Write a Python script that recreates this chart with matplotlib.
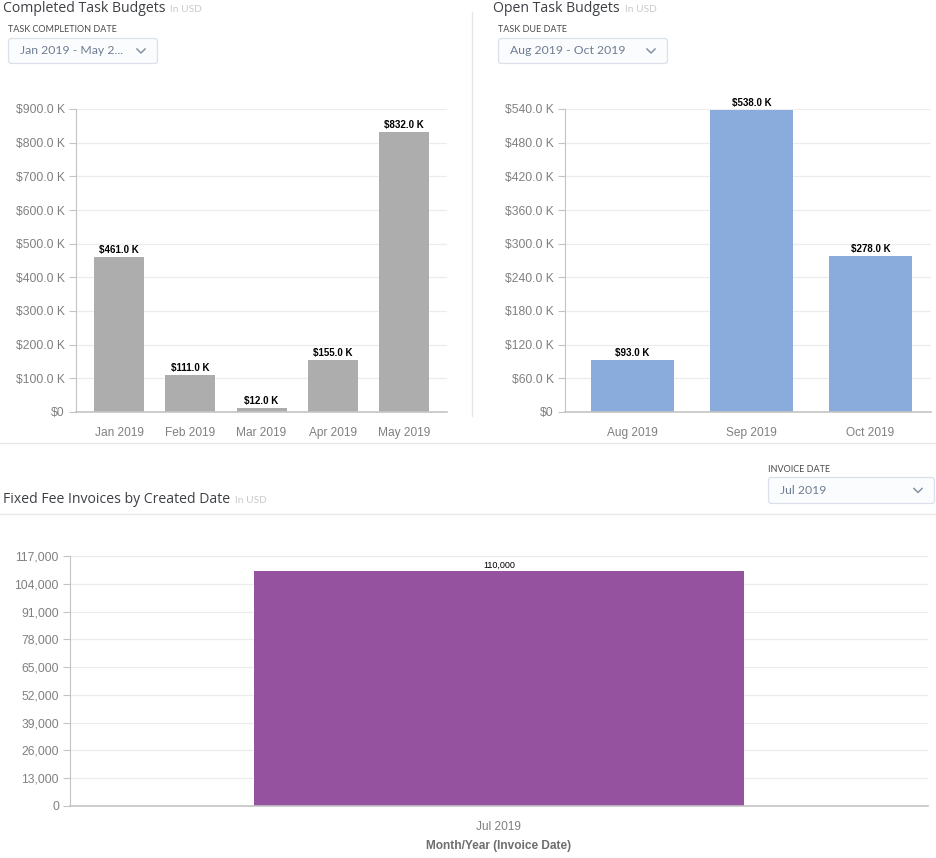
import matplotlib
matplotlib.use('Agg')
import matplotlib.pyplot as plt
from matplotlib.patches import FancyBboxPatch

W, H = 936, 858

# --- data ---
completed_months = ['Jan 2019', 'Feb 2019', 'Mar 2019', 'Apr 2019', 'May 2019']
completed_values = [461, 111, 12, 155, 832]
completed_ticks = [0, 100, 200, 300, 400, 500, 600, 700, 800, 900]

open_months = ['Aug 2019', 'Sep 2019', 'Oct 2019']
open_values = [93, 538, 278]
open_ticks = [0, 60, 120, 180, 240, 300, 360, 420, 480, 540]

invoice_months = ['Jul 2019']
invoice_values = [110000]
invoice_ticks = [0, 13000, 26000, 39000, 52000, 65000, 78000, 91000, 104000, 117000]

AXIS_COL = '#c4c4c4'
GRID_COL = '#ececec'
TICK_COL = '#808080'
BASE_FONT = ['Liberation Sans', 'DejaVu Sans']


def make_axes(left, right, top, bottom):
    # pixel box -> figure fraction
    return fig.add_axes([left / W, 1 - bottom / H, (right - left) / W, (bottom - top) / H])


def k_label(v):
    return '$0' if v == 0 else f'${v:.1f} K'


def bar_panel(ax, names, values, ticks, color, width, xlim, fmt, label_fmt, label_size, label_weight, pad):
    ax.bar(range(len(names)), values, width=width, color=color, edgecolor='none', zorder=2)
    ax.set_xlim(*xlim)
    ax.set_ylim(ticks[0], ticks[-1])
    ax.set_yticks(ticks)
    ax.set_yticklabels([fmt(t) for t in ticks])
    ax.set_xticks(range(len(names)))
    ax.set_xticklabels(names)
    ax.grid(axis='y', color=GRID_COL, linewidth=0.9, zorder=0)
    ax.set_axisbelow(True)
    for s in ['top', 'right']:
        ax.spines[s].set_visible(False)
    ax.spines['left'].set_color(AXIS_COL)
    ax.spines['bottom'].set_color(AXIS_COL)
    ax.spines['bottom'].set_linewidth(1.2)
    ax.tick_params(axis='y', length=5, width=0.8, color=AXIS_COL, labelcolor=TICK_COL, labelsize=8.7, pad=3)
    ax.tick_params(axis='x', length=0, labelcolor=TICK_COL, labelsize=8.6, pad=11)
    for i, v in enumerate(values):
        ax.annotate(label_fmt(v), (i, v), xytext=(0, pad), textcoords='offset points', ha='center', va='bottom',
                    fontsize=label_size, fontweight=label_weight, color='black', clip_on=False)


plt.rcParams['font.family'] = BASE_FONT
fig = plt.figure(figsize=(W / 100, H / 100), dpi=100)

# --- page furniture drawn in pixel coordinates ---
page = fig.add_axes([0, 0, 1, 1], zorder=5)
page.set_xlim(0, W)
page.set_ylim(H, 0)
page.axis('off')
page.patch.set_alpha(0)

page.plot([472, 472], [12, 416], color='#e6e6e6', lw=1)
page.plot([0, 936], [443, 443], color='#e8e8e8', lw=1)
page.plot([0, 936], [514, 514], color='#e8e8e8', lw=1)


def title(x, y, text, note_x):
    page.text(x, y, text, family=['Open Sans', 'DejaVu Sans'], fontsize=10.1, color='#3c3f44', va='center')
    page.text(note_x, y + 1, 'In USD', family=['Lato', 'DejaVu Sans'], fontsize=7.3, color='#c9c9c9', va='center')


def dropdown(x0, x1, y0, y1, label, text):
    page.text(x0, y0 - 8, label, family=['Lato', 'DejaVu Sans'], fontsize=6.5, color='#4a4a4a', va='center')
    page.add_patch(FancyBboxPatch((x0 + 2.5, y0 + 2.5), x1 - x0 - 5, y1 - y0 - 5, boxstyle='round,pad=2,rounding_size=3',
                                  fc='#fbfcfd', ec='#d9e0ea', lw=0.9))
    page.text(x0 + 12, (y0 + y1) / 2, text, family=['Lato', 'DejaVu Sans'], fontsize=8.8, color='#6f7d92', va='center')
    cx = x1 - 17
    cy = (y0 + y1) / 2
    page.plot([cx - 4, cx, cx + 4], [cy - 2, cy + 2, cy - 2], color='#8793a5', lw=1.1)


title(3, 8, 'Completed Task Budgets', 170)
title(493, 8, 'Open Task Budgets', 625)
title(3, 499.5, 'Fixed Fee Invoices by Created Date', 235)
dropdown(8, 158, 38, 64, 'TASK COMPLETION DATE', 'Jan 2019 - May 2...')
dropdown(498, 668, 38, 64, 'TASK DUE DATE', 'Aug 2019 - Oct 2019')
dropdown(768, 935, 477, 504, 'INVOICE DATE', 'Jul 2019')

# --- charts ---
ax1 = make_axes(76, 447, 109, 412)
bar_panel(ax1, completed_months, completed_values, completed_ticks, '#adadad', 0.70, (-0.6035, 4.60),
          k_label, k_label, 7, 'bold', 1.5)

ax2 = make_axes(565, 931, 109, 412)
bar_panel(ax2, open_months, open_values, open_ticks, '#8aacdd', 0.70, (-0.5672, 2.51),
          k_label, k_label, 7, 'bold', 1.5)

ax3 = make_axes(70, 928, 556, 806)
bar_panel(ax3, invoice_months, invoice_values, invoice_ticks, '#94529f', 0.572, (-0.5, 0.5),
          lambda v: f'{v:,}', lambda v: f'{v:,}', 6.5, 'normal', 1)
ax3.set_xlabel('Month/Year (Invoice Date)', fontsize=8.6, fontweight='bold', color='#6e6e6e', labelpad=5)

fig.savefig('out.png', dpi=100)
